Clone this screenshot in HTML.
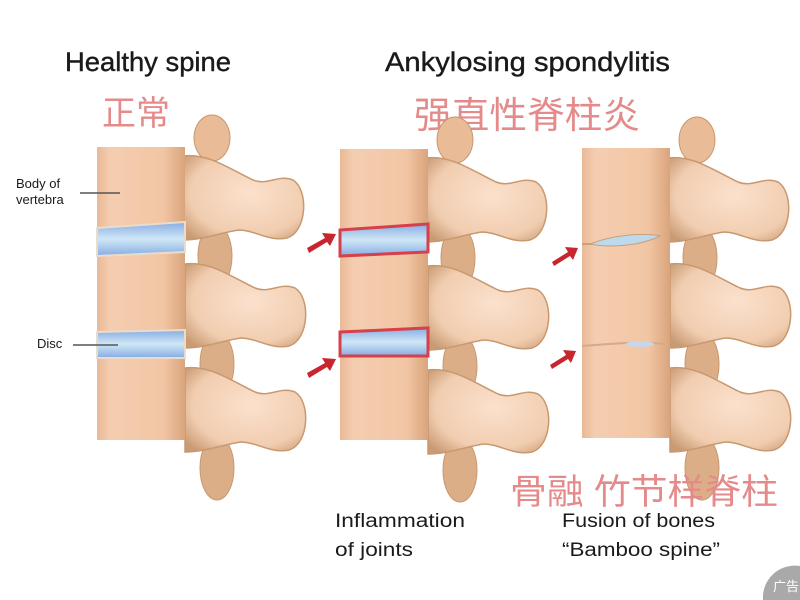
<!DOCTYPE html>
<html><head><meta charset="utf-8"><style>
html,body{margin:0;padding:0;background:#fff;}
svg{display:block;}
.t{font-family:"Liberation Sans",sans-serif;fill:#1a1a1a;}
.c{font-family:"Liberation Sans","Noto Sans CJK SC",sans-serif;fill:#e58a8a;}
</style></head><body>
<svg width="800" height="600" viewBox="0 0 800 600" xmlns="http://www.w3.org/2000/svg">
<defs>
<linearGradient id="body" x1="0" x2="1" y1="0" y2="0">
<stop offset="0" stop-color="#e9b996"/><stop offset="0.15" stop-color="#f4cdb0"/>
<stop offset="0.75" stop-color="#f2c6a4"/><stop offset="1" stop-color="#d9a47c"/></linearGradient>
<linearGradient id="disc" x1="0" x2="0" y1="0" y2="1">
<stop offset="0" stop-color="#87ace2"/><stop offset="0.5" stop-color="#cfe7f6"/><stop offset="1" stop-color="#87ace2"/></linearGradient>
<radialGradient id="wing" cx="0.55" cy="0.45" r="0.7">
<stop offset="0" stop-color="#fbe1cd"/><stop offset="0.7" stop-color="#f1cdb0"/><stop offset="1" stop-color="#c99b74"/></radialGradient>
<g id="proc">
<ellipse cx="32" cy="106" rx="17" ry="32" fill="#dcae88" stroke="#c8986f"/>
<path d="M0,6 C25,3 45,18 70,30 C85,36 95,24 110,30 C126,40 124,82 104,88 C86,92 72,80 56,80 C40,82 20,90 0,90 Z" fill="url(#wing)" stroke="#c8986f" stroke-width="1.5"/>
</g>
</defs>

<text class="t" x="65" y="71" font-size="27" textLength="166" lengthAdjust="spacingAndGlyphs" stroke="#1a1a1a" stroke-width="0.4">Healthy spine</text>
<text class="t" x="385" y="71" font-size="27" textLength="285" lengthAdjust="spacingAndGlyphs" stroke="#1a1a1a" stroke-width="0.4">Ankylosing spondylitis</text>
<text class="c" x="102" y="125" font-size="34">正常</text>
<text class="c" x="414" y="128" font-size="37" textLength="226" lengthAdjust="spacingAndGlyphs">强直性脊柱炎</text>

<g>
<ellipse cx="212" cy="138" rx="18" ry="23" fill="#e9bc97" stroke="#c8986f"/>
<use href="#proc" x="183" y="150"/>
<use href="#proc" x="185" y="258"/>
<use href="#proc" x="185" y="362"/>
<rect x="97" y="147" width="88" height="293" fill="url(#body)"/>
<path d="M97,228 L185,222 L185,252 L97,256 Z" fill="url(#disc)" stroke="#e9dccd" stroke-width="2"/>
<path d="M97,332 L185,330 L185,358 L97,358 Z" fill="url(#disc)" stroke="#e9dccd" stroke-width="2"/>
</g>
<text class="t" x="16" y="188" font-size="13">Body of</text>
<text class="t" x="16" y="204" font-size="13">vertebra</text>
<line x1="80" y1="193" x2="120" y2="193" stroke="#555" stroke-width="1.5"/>
<text class="t" x="37" y="348" font-size="13">Disc</text>
<line x1="73" y1="345" x2="118" y2="345" stroke="#555" stroke-width="1.5"/>

<g>
<ellipse cx="455" cy="140" rx="18" ry="23" fill="#e9bc97" stroke="#c8986f"/>
<use href="#proc" x="426" y="152"/>
<use href="#proc" x="428" y="260"/>
<use href="#proc" x="428" y="364"/>
<rect x="340" y="149" width="88" height="291" fill="url(#body)"/>
<path d="M340,230 L428,224 L428,252 L340,256 Z" fill="url(#disc)" stroke="#d6404a" stroke-width="3"/>
<path d="M340,332 L428,328 L428,356 L340,356 Z" fill="url(#disc)" stroke="#d6404a" stroke-width="3"/>
</g>
<g fill="#c8262f">
<path d="M307,248 L325,238 L322,233 L336,234 L330,246 L327,242 L309,253 Z"/>
<path d="M307,373 L325,363 L322,358 L336,359 L330,371 L327,367 L309,378 Z"/>
</g>

<g>
<ellipse cx="697" cy="140" rx="18" ry="23" fill="#e9bc97" stroke="#c8986f"/>
<use href="#proc" x="668" y="152"/>
<use href="#proc" x="670" y="258"/>
<use href="#proc" x="670" y="362"/>
<rect x="582" y="148" width="88" height="290" fill="url(#body)"/>
<path d="M590,244 C610,236 640,232 660,236 C640,246 610,248 590,244 Z" fill="#bcd9ee" stroke="#c9a07a"/>
<line x1="582" y1="244" x2="592" y2="244" stroke="#c9a07a" stroke-width="2"/>
<path d="M582,346 C610,344 640,341 665,344" fill="none" stroke="#d6a98a" stroke-width="2"/>
<ellipse cx="640" cy="344" rx="14" ry="3" fill="#c8d6ea"/>
</g>
<g fill="#c8262f">
<path d="M552,262 L568,252 L565,247 L578,248 L573,260 L570,256 L554,266 Z"/>
<path d="M550,365 L566,355 L563,350 L576,351 L571,363 L568,359 L552,369 Z"/>
</g>

<text class="c" x="510" y="504" font-size="35" textLength="268" lengthAdjust="spacingAndGlyphs">骨融 竹节样脊柱</text>
<text class="t" x="335" y="527" font-size="19" textLength="130" lengthAdjust="spacingAndGlyphs">Inflammation</text>
<text class="t" x="335" y="556" font-size="19" textLength="78" lengthAdjust="spacingAndGlyphs">of joints</text>
<text class="t" x="562" y="527" font-size="19" textLength="153" lengthAdjust="spacingAndGlyphs">Fusion of bones</text>
<text class="t" x="562" y="556" font-size="19" textLength="158" lengthAdjust="spacingAndGlyphs">“Bamboo spine”</text>

<path d="M763,600 L763,595 A32,32 0 0 1 800,566 L800,600 Z" fill="#a9a9a9"/>
<text x="773" y="591" font-size="13" fill="#fff" font-family="Liberation Sans,'Noto Sans CJK SC',sans-serif">广告</text>
</svg>
</body></html>
